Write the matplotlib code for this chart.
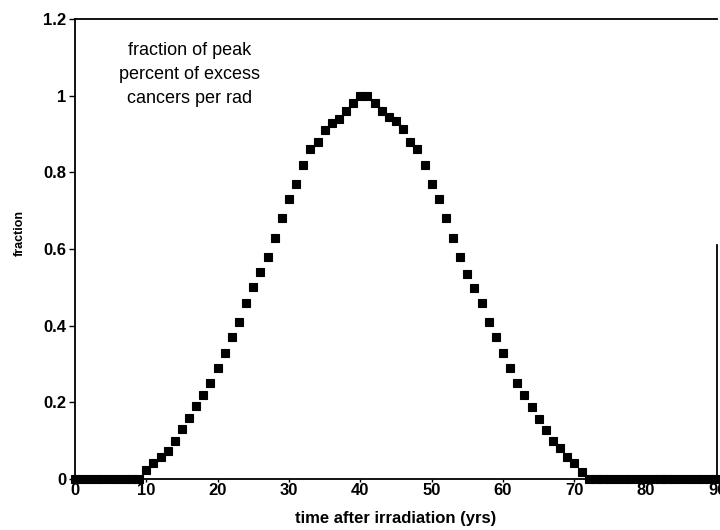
import numpy as np
import matplotlib.pyplot as plt

plt.rcParams['font.family'] = ['Liberation Sans', 'DejaVu Sans']

# data
years = list(range(0, 91))
rise = [0.023, 0.043, 0.058, 0.073, 0.10, 0.13, 0.16, 0.19, 0.22, 0.25,
        0.29, 0.33, 0.37, 0.41, 0.46, 0.50, 0.54, 0.58, 0.63, 0.68,
        0.73, 0.77, 0.82, 0.86, 0.88, 0.91, 0.93, 0.94, 0.96, 0.98,
        1.0, 1.0]
fall = [0.98, 0.96, 0.944, 0.933, 0.913, 0.88, 0.86, 0.82, 0.77, 0.73,
        0.68, 0.63, 0.58, 0.535, 0.498, 0.459, 0.41, 0.37, 0.33, 0.289,
        0.25, 0.219, 0.189, 0.158, 0.128, 0.10, 0.08, 0.058, 0.041, 0.019]
fraction = [0.0] * 10 + rise + fall + [0.0] * 19

xticks = [0, 10, 20, 30, 40, 50, 60, 70, 80, 90]
yticks = [0, 0.2, 0.4, 0.6, 0.8, 1.0, 1.2]
ylabels = ['0', '0.2', '0.4', '0.6', '0.8', '1', '1.2']

fig = plt.figure(figsize=(7.2, 5.3), dpi=100)
ax = fig.add_axes([0.104, 0.096, 0.892, 0.868])

ax.plot(years, fraction, linestyle='none', marker='s', markersize=5.5,
        color='black', markeredgewidth=0.8, clip_on=False)

ax.set_xlim(0, 90)
ax.set_ylim(0, 1.2)
ax.set_xticks(xticks)
ax.set_xticklabels([str(t) for t in xticks], fontsize=12, fontweight='bold')
ax.set_yticks(yticks)
ax.set_yticklabels(ylabels, fontsize=12, fontweight='bold')
ax.tick_params(axis='y', direction='out', length=4, width=1, pad=2)
ax.tick_params(axis='x', direction='out', length=2, width=1, pad=1)

for s in ax.spines.values():
    s.set_linewidth(1.3)
ax.spines['right'].set_bounds(0, 0.61)

ax.set_xlabel('time after irradiation (yrs)', fontsize=12, fontweight='bold')
ax.xaxis.set_label_coords(0.5, -0.07)
ax.set_ylabel('fraction', fontsize=9, fontweight='bold')
ax.yaxis.set_label_coords(-0.076, 0.535)

ax.text(16.1, 1.14, 'fraction of peak\npercent of excess\ncancers per rad',
        ha='center', va='top', fontsize=13, linespacing=1.55)

plt.savefig('out.png', dpi=100)
